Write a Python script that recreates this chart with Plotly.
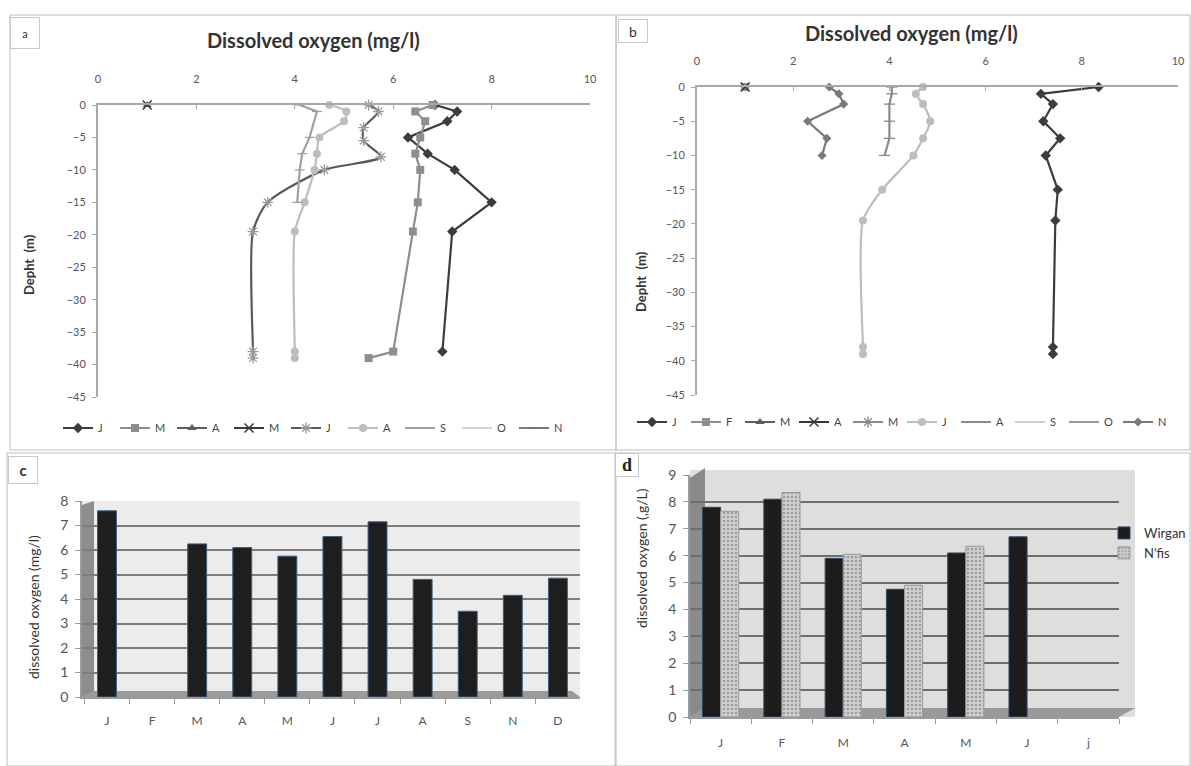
import plotly.graph_objects as go

W, H = 1191, 766
def fx(px): return px / W
def fy(py): return (H - py) / H

# ---------------- Panel a data (depth profiles) ----------------
a_J_x = [6.85, 7.3, 7.1, 6.3, 6.7, 7.25, 8.0, 7.2, 7.0]
a_J_y = [0, -1, -2.5, -5, -7.5, -10, -15, -19.5, -38]
a_M_x = [6.8, 6.45, 6.65, 6.55, 6.45, 6.55, 6.5, 6.4, 6.0, 5.5]
a_M_y = [0, -1, -2.5, -5, -7.5, -10, -15, -19.5, -38, -39]
a_A_x = [1.0]
a_A_y = [0]
a_M2_x = [1.0]
a_M2_y = [0]
a_J2_x = [5.5, 5.7, 5.4, 5.4, 5.75, 4.6, 3.45, 3.15, 3.15, 3.15]
a_J2_y = [0, -1, -3.5, -5.5, -8, -10, -15, -19.5, -38, -39]
a_A2_x = [4.7, 5.05, 5.0, 4.5, 4.45, 4.4, 4.2, 4.0, 4.0, 4.0]
a_A2_y = [0, -1, -2.5, -5, -7.5, -10, -15, -19.5, -38, -39]
a_S_x = [4.1, 4.45, 4.3, 4.15, 4.1, 4.05]
a_S_y = [0, -1, -5, -7.5, -10, -15]
a_O_x = [None]
a_O_y = [None]
a_N_x = [None]
a_N_y = [None]

# ---------------- Panel b data ----------------
b_J_x = [8.35, 7.15, 7.4, 7.2, 7.55, 7.25, 7.5, 7.45, 7.4, 7.4]
b_J_y = [0, -1, -2.5, -5, -7.5, -10, -15, -19.5, -38, -39]
b_F_x = [1.0]
b_F_y = [0]
b_M_x = [None]
b_M_y = [None]
b_A_x = [1.0]
b_A_y = [0]
b_M2_x = [None]
b_M2_y = [None]
b_J2_x = [4.7, 4.55, 4.7, 4.85, 4.7, 4.5, 3.85, 3.45, 3.45, 3.45]
b_J2_y = [0, -1, -2.5, -5, -7.5, -10, -15, -19.5, -38, -39]
b_A2_x = [4.05, 4.05, 4.0, 4.0, 4.0, 3.9]
b_A2_y = [0, -1, -2.5, -5, -7.5, -10]
b_S_x = [None]
b_S_y = [None]
b_O_x = [None]
b_O_y = [None]
b_N_x = [2.75, 2.95, 3.05, 2.3, 2.7, 2.6]
b_N_y = [0, -1, -2.5, -5, -7.5, -10]

# ---------------- Panel c data ----------------
c_months = ["J", "F", "M", "A", "M", "J", "J", "A", "S", "N", "D"]
c_do = [7.6, None, 6.25, 6.1, 5.75, 6.55, 7.15, 4.8, 3.5, 4.15, 4.85]

# ---------------- Panel d data ----------------
d_months = ["J", "F", "M", "A", "M", "J", "j"]
d_wirgan = [7.8, 8.1, 5.9, 4.75, 6.1, 6.7, None]
d_nfis = [7.65, 8.35, 6.05, 4.9, 6.35, None, None]

FONT = "Lato"
fig = go.Figure()

def line_trace(name, x, y, color, symbol, msize, xa, ya, legend, lw=2.2,
               mcolor=None, shape="linear", mline=0):
    mc = mcolor or color
    fig.add_trace(go.Scatter(
        x=x, y=y, name=name, mode="lines+markers",
        line=dict(color=color, width=lw, shape=shape, smoothing=0.7),
        marker=dict(symbol=symbol, size=msize, color=mc,
                    line=dict(color=mc, width=mline)),
        xaxis=xa, yaxis=ya, legend=legend, cliponaxis=False,
        connectgaps=False))

# panel a traces
line_trace("J", a_J_x, a_J_y, "#3c3c3c", "diamond", 8, "x", "y", "legend")
line_trace("M", a_M_x, a_M_y, "#8e8e8e", "square", 8, "x", "y", "legend")
line_trace("A", a_A_x, a_A_y, "#5e5e5e", "triangle-up", 8, "x", "y", "legend")
line_trace("M", a_M2_x, a_M2_y, "#383838", "x-thin-open", 9, "x", "y", "legend", mline=1.5)
line_trace("J", a_J2_x, a_J2_y, "#5a5a5a", "asterisk-open", 9, "x", "y", "legend",
           mcolor="#9a9a9a", shape="spline", mline=1.3)
line_trace("A", a_A2_x, a_A2_y, "#bdbdbd", "circle", 8, "x", "y", "legend", shape="spline")
line_trace("S", a_S_x, a_S_y, "#a0a0a0", "line-ew-open", 7, "x", "y", "legend", mline=1.3)
line_trace("O", a_O_x, a_O_y, "#d3d3d3", "circle", 0.1, "x", "y", "legend")
line_trace("N", a_N_x, a_N_y, "#7a7a7a", "line-ew-open", 6, "x", "y", "legend", mline=1.3)

# panel b traces
line_trace("J", b_J_x, b_J_y, "#3c3c3c", "diamond", 8, "x2", "y2", "legend2")
line_trace("F", b_F_x, b_F_y, "#8e8e8e", "square", 8, "x2", "y2", "legend2")
line_trace("M", b_M_x, b_M_y, "#5e5e5e", "triangle-up", 8, "x2", "y2", "legend2")
line_trace("A", b_A_x, b_A_y, "#383838", "x-thin-open", 9, "x2", "y2", "legend2", mline=1.5)
line_trace("M", b_M2_x, b_M2_y, "#8a8a8a", "asterisk-open", 9, "x2", "y2", "legend2", mline=1.3)
line_trace("J", b_J2_x, b_J2_y, "#bdbdbd", "circle", 8, "x2", "y2", "legend2", shape="spline")
line_trace("A", b_A2_x, b_A2_y, "#8a8a8a", "line-ew-open", 8, "x2", "y2", "legend2", mline=1.3)
line_trace("S", b_S_x, b_S_y, "#cfcfcf", "circle", 0.1, "x2", "y2", "legend2")
line_trace("O", b_O_x, b_O_y, "#9a9a9a", "circle", 0.1, "x2", "y2", "legend2")
line_trace("N", b_N_x, b_N_y, "#7a7a7a", "diamond", 7, "x2", "y2", "legend2")

# panel c bars
fig.add_trace(go.Bar(
    x=list(range(len(c_months))), y=c_do, width=0.42,
    marker=dict(color="#1e1e1e", line=dict(color="#3d5f80", width=1)),
    xaxis="x3", yaxis="y3", showlegend=False))

# panel d bars
fig.add_trace(go.Bar(
    x=list(range(len(d_months))), y=d_wirgan, name="Wirgan",
    marker=dict(color="#1c1c1c", line=dict(color="#2c4a6a", width=1)),
    xaxis="x4", yaxis="y4", legend="legend3"))
fig.add_trace(go.Bar(
    x=list(range(len(d_months))), y=d_nfis, name="N'fis",
    marker=dict(color="#c4c4c4", line=dict(color="#9a9a9a", width=1),
                pattern=dict(shape=".", fgcolor="#6e6e6e", bgcolor="#cfcfcf",
                             size=4, solidity=0.35)),
    xaxis="x4", yaxis="y4", legend="legend3"))

tickfont = dict(family=FONT, size=11, color="#555555")
axcol = "#a8a8a8"

layout = dict(
    width=W, height=H, autosize=False,
    margin=dict(l=0, r=0, t=0, b=0, autoexpand=False),
    paper_bgcolor="white", plot_bgcolor="rgba(0,0,0,0)",
    font=dict(family=FONT, color="#444"),
    barmode="group", bargap=0.41, bargroupgap=0.0,
    # panel a
    xaxis=dict(domain=[fx(98), fx(590)], range=[0, 10], dtick=2, side="top",
               anchor="y", showline=True, linecolor=axcol, linewidth=2,
               ticks="inside", ticklen=4, tickcolor=axcol, showgrid=False,
               zeroline=False, tickfont=tickfont, ticklabelstandoff=16),
    yaxis=dict(domain=[fy(397), fy(105)], range=[-45, 0], dtick=5,
               anchor="x", showline=True, linecolor=axcol, linewidth=2,
               ticks="outside", ticklen=4, tickcolor=axcol, showgrid=False,
               zeroline=False, tickfont=tickfont, ticklabelstandoff=4),
    # panel b
    xaxis2=dict(domain=[fx(697), fx(1178)], range=[0, 10], dtick=2, side="top",
                anchor="y2", showline=True, linecolor=axcol, linewidth=2,
                ticks="inside", ticklen=4, tickcolor=axcol, showgrid=False,
                zeroline=False, tickfont=tickfont, ticklabelstandoff=16),
    yaxis2=dict(domain=[fy(395), fy(87)], range=[-45, 0], dtick=5,
                anchor="x2", showline=True, linecolor=axcol, linewidth=2,
                ticks="outside", ticklen=4, tickcolor=axcol, showgrid=False,
                zeroline=False, tickfont=tickfont, ticklabelstandoff=4),
    # panel c
    xaxis3=dict(domain=[fx(82), fx(580)], range=[-0.554, 10.49],
                tickmode="array", tickvals=list(range(len(c_months))),
                ticktext=c_months, anchor="y3", showline=True,
                linecolor="#9a9a9a", linewidth=1.5, ticks="",
                minor=dict(tick0=0.5, dtick=1, ticks="outside", ticklen=5,
                           tickcolor="#9a9a9a", showgrid=False),
                showgrid=False, zeroline=False,
                tickfont=dict(family=FONT, size=12, color="#555"),
                ticklabelstandoff=12),
    yaxis3=dict(domain=[fy(697), fy(501)], range=[0, 8], dtick=1,
                anchor="x3", showline=True, linecolor="#9a9a9a", linewidth=1.5,
                ticks="outside", ticklen=5, tickcolor="#9a9a9a",
                showgrid=True, gridcolor="#7d7d7d", gridwidth=1.6,
                zeroline=False, tickfont=dict(family=FONT, size=14, color="#555"),
                ticklabelstandoff=4),
    # panel d
    xaxis4=dict(domain=[fx(690), fx(1119)], range=[-0.5, 6.5],
                tickmode="array", tickvals=list(range(len(d_months))),
                ticktext=d_months, anchor="y4", showline=True,
                linecolor="#9a9a9a", linewidth=1.5, ticks="",
                minor=dict(tick0=0.5, dtick=1, ticks="outside", ticklen=5,
                           tickcolor="#9a9a9a", showgrid=False),
                showgrid=False, zeroline=False,
                tickfont=dict(family=FONT, size=12, color="#555"),
                ticklabelstandoff=14),
    yaxis4=dict(domain=[fy(717), fy(475)], range=[0, 9], dtick=1,
                anchor="x4", showline=True, linecolor="#9a9a9a", linewidth=1.5,
                ticks="outside", ticklen=5, tickcolor="#9a9a9a",
                showgrid=True, gridcolor="#6e6e6e", gridwidth=1.6,
                zeroline=False, tickfont=dict(family=FONT, size=14, color="#555"),
                ticklabelstandoff=4),
    legend=dict(orientation="h", x=fx(58), y=fy(428), xanchor="left",
                yanchor="middle", entrywidth=12, entrywidthmode="pixels",
                font=dict(family=FONT, size=11, color="#444"),
                bgcolor="rgba(0,0,0,0)"),
    legend2=dict(orientation="h", x=fx(632), y=fy(422), xanchor="left",
                 yanchor="middle", entrywidth=9, entrywidthmode="pixels",
                 font=dict(family=FONT, size=11, color="#444"),
                 bgcolor="rgba(0,0,0,0)"),
    legend3=dict(orientation="v", x=fx(1104), y=fy(543), xanchor="left",
                 yanchor="middle", font=dict(family=FONT, size=13, color="#333"),
                 bgcolor="rgba(0,0,0,0)", itemwidth=30, tracegroupgap=4),
)
fig.update_layout(**layout)

shapes = []
def rect(x0, y0, x1, y1, color="#bdbdbd", fill=None, layer="above", w=1):
    shapes.append(dict(type="rect", xref="paper", yref="paper",
                       x0=fx(x0), x1=fx(x1), y0=fy(y1), y1=fy(y0),
                       line=dict(color=color if w else "rgba(0,0,0,0)", width=w),
                       fillcolor=fill or "rgba(0,0,0,0)", layer=layer))
def poly(pts, fill, layer="between"):
    path = "M " + " L ".join(f"{fx(px)},{fy(py)}" for px, py in pts) + " Z"
    shapes.append(dict(type="path", xref="paper", yref="paper", path=path,
                       fillcolor=fill, line=dict(width=0), layer=layer))

# panel borders
rect(10, 15, 616, 450)
rect(616, 15, 1190, 450)
rect(7, 453, 616, 766)
rect(615, 453, 1190, 766)

# panel c 3D walls
rect(82, 501, 580, 697, fill="#ececec", layer="below", w=0)
poly([(82, 505), (94, 501), (94, 692), (82, 697)], "#8d8d8d")
poly([(82, 697), (94, 691), (572, 691), (580, 697)], "#9b9b9b")
# panel d 3D walls
rect(690, 470, 1135, 717, fill="#dedede", layer="below", w=0)
poly([(690, 478), (705, 468), (705, 709), (690, 717)], "#8a8a8a")
poly([(690, 717), (705, 708), (1135, 708), (1119, 717)], "#9a9a9a")
fig.update_layout(shapes=shapes)

ann = []
def text(x, y, s, size, bold=False, angle=0, color="#333", family=FONT, **kw):
    ann.append(dict(xref="paper", yref="paper", x=fx(x), y=fy(y),
                    text=f"<b>{s}</b>" if bold else s, showarrow=False,
                    textangle=angle, xanchor="center", yanchor="middle",
                    font=dict(family=family, size=size, color=color), **kw))

text(313, 40, "Dissolved oxygen (mg/l)", 20, bold=True)
text(911, 33, "Dissolved oxygen (mg/l)", 20, bold=True)
text(29, 265, "Depht  (m)", 13, bold=True, angle=-90)
text(641, 282, "Depht  (m)", 13, bold=True, angle=-90)
text(33, 607, "dissolved oxygen (mg/l)", 14, angle=-90)
text(641, 558, "dissolved oxygen (,g/L)", 14, angle=-90)
# panel letters
text(25, 33, "a", 11, bordercolor="#c8c8c8", borderwidth=1, bgcolor="white",
     width=26, height=28)
text(633, 31, "b", 14, bordercolor="#c8c8c8", borderwidth=1, bgcolor="white",
     width=26, height=20)
text(23, 470, "c", 15, bold=True, bordercolor="#c8c8c8", borderwidth=1,
     bgcolor="white", width=26, height=24)
text(627, 465, "d", 18, bold=True, family="Liberation Serif", color="#222",
     bordercolor="#c8c8c8", borderwidth=1, bgcolor="white", width=20, height=20)
fig.update_layout(annotations=ann)

fig.write_html("out.html")
